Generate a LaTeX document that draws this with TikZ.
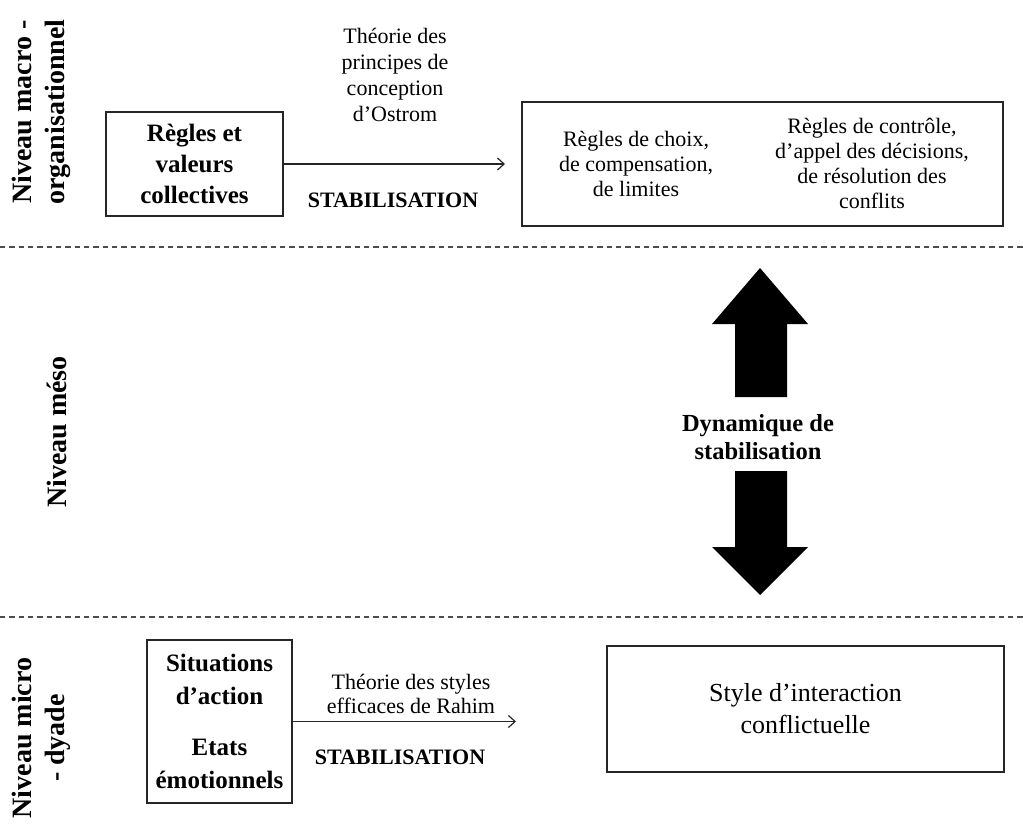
\documentclass[tikz,border=0pt]{standalone}
\usepackage{fontspec}
\setmainfont{Liberation Serif}
\usetikzlibrary{arrows.meta}
\begin{document}
\begin{tikzpicture}[x=0.75pt,y=-0.75pt,
  box/.style={draw=black!85,line width=0.9pt,inner sep=0pt,align=center},
  txt/.style={inner sep=0pt,align=center},
  lvl/.style={inner sep=0pt,align=center,rotate=90,font=\fontsize{21pt}{24.75pt}\selectfont\bfseries},
  conn/.style={draw=black!85,line width=0.9pt,-{Straight Barb[length=5pt,width=9pt]}},
  sep/.style={draw=black!70,line width=0.8pt,dash pattern=on 4pt off 3pt},
  bigarrow/.style={fill=black}]
\useasboundingbox (0,0) rectangle (1023,827);
% separators
\coordinate (s1a) at (0,247); \coordinate (s1b) at (1023,247);
\coordinate (s2a) at (0,617); \coordinate (s2b) at (1023,617);
\draw[sep] (s1a) -- (s1b);
\draw[sep] (s2a) -- (s2b);
% level labels
\node[lvl] (lmacro) at (41,112) {Niveau macro -\\organisationnel};
\node[lvl] (lmeso) at (57,432) {Niveau méso};
\node[lvl] (lmicro) at (41,738) {Niveau micro\\- dyade};
% top row
\node[box,minimum width=132.75pt,minimum height=78pt,font=\fontsize{18.75pt}{23.25pt}\selectfont\bfseries] (b1) at (194.5,164) {Règles et\\valeurs\\collectives};
\node[box,minimum width=360.75pt,minimum height=93pt] (b2) at (762.5,164) {};
\node[txt,font=\fontsize{16.5pt}{18.75pt}\selectfont] (b2a) at (636,164) {Règles de choix,\\de compensation,\\de limites};
\node[txt,font=\fontsize{16.5pt}{18.75pt}\selectfont] (b2b) at (872,163) {Règles de contrôle,\\d’appel des décisions,\\de résolution des\\conflits};
\coordinate (e1) at (505,164);
\draw[conn] (b1.east) -- (e1);
\node[txt,font=\fontsize{16.5pt}{19.5pt}\selectfont] (t1) at (395,75) {Théorie des\\principes de\\conception\\d’Ostrom};
\node[txt,font=\fontsize{16.5pt}{19.5pt}\selectfont\bfseries] (st1) at (393,200) {STABILISATION};
% big double arrow
\fill[bigarrow] (760,268) -- (808,324) -- (787,324) -- (787,397) -- (735,397) -- (735,324) -- (712,324) -- cycle;
\fill[bigarrow] (760,595) -- (808,547) -- (787,547) -- (787,471) -- (735,471) -- (735,547) -- (712,547) -- cycle;
\node[txt,font=\fontsize{18.4pt}{21pt}\selectfont\bfseries] (dyn) at (758,437) {Dynamique de\\stabilisation};
% bottom row
\node[box,minimum width=108.75pt,minimum height=122.25pt,font=\fontsize{18.75pt}{24.75pt}\selectfont\bfseries] (b3) at (219.5,721.5) {Situations\\d’action\\[13.5pt]Etats\\émotionnels};
\node[box,minimum width=297.75pt,minimum height=94.5pt,font=\fontsize{19.5pt}{24pt}\selectfont] (b4) at (805.5,709) {Style d’interaction\\conflictuelle};
\coordinate (e3) at (516,721.5);
\draw[conn] (b3.east) -- (e3);
\node[txt,font=\fontsize{16.5pt}{17.5pt}\selectfont] (t3) at (411,694) {Théorie des styles\\efficaces de Rahim};
\node[txt,font=\fontsize{16.5pt}{19.5pt}\selectfont\bfseries] (st3) at (400,757) {STABILISATION};
\end{tikzpicture}
\end{document}
